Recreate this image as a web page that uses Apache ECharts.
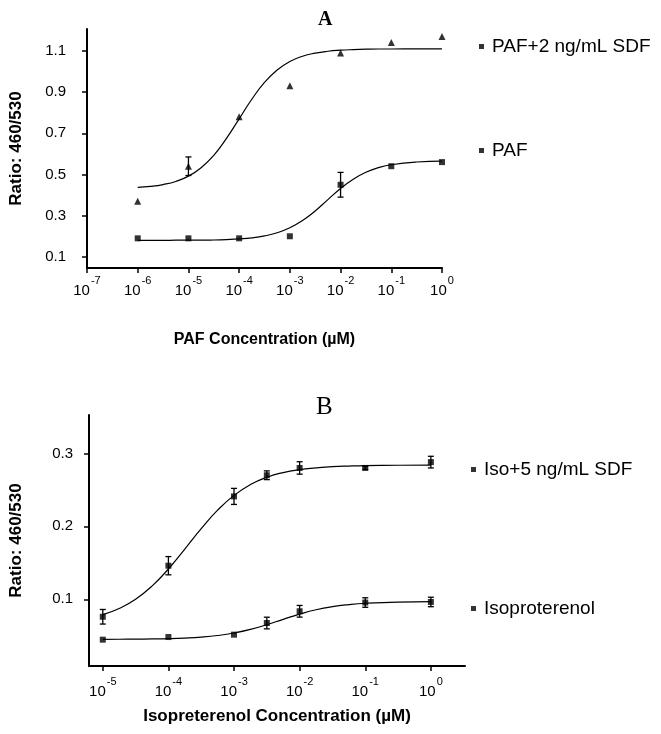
<!DOCTYPE html>
<html>
<head>
<meta charset="utf-8">
<script src="https://cdn.jsdelivr.net/npm/echarts@6/dist/echarts.min.js"></script>
<style>
html,body{margin:0;padding:0;background:#fff;}
#c{width:661px;height:734px;}
</style>
</head>
<body>
<div id="c"></div>
<script>
// ---------- Panel A data (x = log10 of PAF concentration, µM) ----------
var aX = [-6, -5, -4, -3, -2, -1, 0];
var pafSdf = [0.37, 0.54, 0.78, 0.93, 1.09, 1.14, 1.17];
var pafSdfErr = [0, 0.045, 0, 0, 0, 0, 0];
var paf = [0.19, 0.19, 0.19, 0.20, 0.45, 0.54, 0.56];
var pafErr = [0, 0, 0, 0, 0.06, 0, 0];
// fitted curves
var aFitX = [-6, -5.75, -5.5, -5.25, -5, -4.75, -4.5, -4.25, -4, -3.75, -3.5, -3.25, -3, -2.75, -2.5, -2.25, -2, -1.75, -1.5, -1.25, -1, -0.5, 0];
var pafSdfFit = [0.437, 0.442, 0.451, 0.466, 0.492, 0.533, 0.593, 0.675, 0.770, 0.865, 0.947, 1.007, 1.048, 1.074, 1.089, 1.098, 1.103, 1.106, 1.108, 1.109, 1.109, 1.110, 1.110];
var pafFit = [0.180, 0.180, 0.180, 0.181, 0.181, 0.181, 0.182, 0.184, 0.187, 0.192, 0.2015, 0.217, 0.241, 0.276, 0.323, 0.378, 0.432, 0.477, 0.511, 0.533, 0.547, 0.5605, 0.565];
var aYTicks = [0.1, 0.3, 0.5, 0.7, 0.9, 1.1];
var aXTicks = [-7, -6, -5, -4, -3, -2, -1, 0];

// ---------- Panel B data (x = log10 of isoproterenol concentration, µM) ----------
var bX = [-5, -4, -3, -2.5, -2, -1, 0];
var isoSdf = [0.076, 0.146, 0.241, 0.270, 0.280, 0.280, 0.288];
var isoSdfErr = [0.010, 0.0125, 0.011, 0.006, 0.0085, 0.002, 0.008];
var iso = [0.0446, 0.0482, 0.0515, 0.0674, 0.0835, 0.0955, 0.0963];
var isoErr = [0, 0, 0, 0.008, 0.008, 0.0065, 0.0065];
var bFitX = [-5, -4.75, -4.5, -4.25, -4, -3.75, -3.5, -3.25, -3, -2.75, -2.5, -2.25, -2, -1.75, -1.5, -1.25, -1, -0.5, 0];
var isoSdfFit = [0.0789, 0.0873, 0.100, 0.118, 0.1415, 0.1688, 0.1968, 0.2221, 0.2424, 0.2572, 0.2672, 0.2737, 0.2777, 0.2800, 0.2817, 0.2826, 0.2832, 0.2837, 0.2839];
var isoFit = [0.0451, 0.0452, 0.0453, 0.0456, 0.0460, 0.0468, 0.0481, 0.0503, 0.0537, 0.0586, 0.0651, 0.0725, 0.0796, 0.0856, 0.0899, 0.0927, 0.0945, 0.0962, 0.0967];
var bYTicks = [0.1, 0.2, 0.3];
var bXTicks = [-5, -4, -3, -2, -1, 0];

var names = ['PAF+2 ng/mL SDF', 'PAF', 'Iso+5 ng/mL SDF', 'Isoproterenol'];
var titles = ['A', 'B'];
var xNames = ['PAF Concentration (\u00b5M)', 'Isopreterenol Concentration (\u00b5M)'];
var yName = 'Ratio: 460/530';

function pairs(xs, ys) { return xs.map(function (x, i) { return [x, ys[i]]; }); }
function errData(xs, ys, es) {
  var out = [];
  xs.forEach(function (x, i) { if (es[i] > 0) out.push([x, ys[i] - es[i], ys[i] + es[i]]); });
  return out;
}
function errRender(params, api) {
  var x = api.value(0);
  var p1 = api.coord([x, api.value(2)]);
  var p2 = api.coord([x, api.value(1)]);
  var w = 3;
  var st = { stroke: '#000', lineWidth: 1.3 };
  return { type: 'group', children: [
    { type: 'line', shape: { x1: p1[0], y1: p1[1], x2: p2[0], y2: p2[1] }, style: st },
    { type: 'line', shape: { x1: p1[0] - w, y1: p1[1], x2: p1[0] + w, y2: p1[1] }, style: st },
    { type: 'line', shape: { x1: p2[0] - w, y1: p2[1], x2: p2[0] + w, y2: p2[1] }, style: st }
  ]};
}
function supFmt(v) {
  var r = Math.round(v);
  return '{b|10}{s|' + (r === 0 ? '0' : String(r)) + '}';
}
var supRich = {
  b: { fontSize: 15, lineHeight: 15, padding: [8, 0, 0, 0], color: '#000', fontFamily: 'Liberation Sans' },
  s: { fontSize: 11, lineHeight: 11, padding: [0, 0, 12, 1], color: '#000', fontFamily: 'Liberation Sans' }
};
var axisLineStyle = { show: true, onZero: false, lineStyle: { color: '#000', width: 2 } };
var tickStyle = { show: true, length: 5, lineStyle: { color: '#000', width: 1.5 } };
var sans = 'Liberation Sans';

var chart = echarts.init(document.getElementById('c'), null, { renderer: 'canvas' });
var legendText = { fontSize: 19, color: '#000', fontFamily: sans, padding: [0, 0, 0, 3] };
function leg(name, left, top) {
  return { data: [name], left: left, top: top, icon: 'rect', itemWidth: 5, itemHeight: 5,
    orient: 'vertical', textStyle: legendText, selectedMode: false };
}

var option = {
  animation: false,
  backgroundColor: '#fff',
  title: [
    { text: titles[0], left: 313, top: 5, textStyle: { fontFamily: 'Liberation Serif', fontWeight: 'bold', fontSize: 20, color: '#000' } },
    { text: titles[1], left: 311, top: 390, textStyle: { fontFamily: 'Liberation Serif', fontWeight: 'normal', fontSize: 25, color: '#000' } }
  ],
  legend: [
    leg(names[0], 474, 32),
    leg(names[1], 474, 136),
    leg(names[2], 466, 455),
    leg(names[3], 466, 594)
  ],
  grid: [
    { left: 86, top: 29, width: 356, height: 239 },
    { left: 88, top: 415, width: 377, height: 251 }
  ],
  xAxis: [
    { gridIndex: 0, type: 'value', min: -7, max: 0, splitLine: { show: false },
      axisLine: axisLineStyle, axisTick: Object.assign({ customValues: aXTicks }, tickStyle),
      axisLabel: { customValues: aXTicks, formatter: supFmt, rich: supRich, margin: 11 },
      name: xNames[0], nameLocation: 'middle', nameGap: 64,
      nameTextStyle: { fontSize: 16, fontWeight: 'bold', color: '#000', fontFamily: sans } },
    { gridIndex: 1, type: 'value', min: -5.21, max: 0.52, splitLine: { show: false },
      axisLine: axisLineStyle, axisTick: Object.assign({ customValues: bXTicks }, tickStyle),
      axisLabel: { customValues: bXTicks, formatter: supFmt, rich: supRich, margin: 14 },
      name: xNames[1], nameLocation: 'middle', nameGap: 42,
      nameTextStyle: { fontSize: 17, fontWeight: 'bold', color: '#000', fontFamily: sans } }
  ],
  yAxis: [
    { gridIndex: 0, type: 'value', min: 0.046, max: 1.206, splitLine: { show: false },
      axisLine: axisLineStyle, axisTick: Object.assign({ customValues: aYTicks }, tickStyle),
      axisLabel: { customValues: aYTicks, formatter: function (v) { return v.toFixed(1); }, fontSize: 15, color: '#000', fontFamily: sans, margin: 21 },
      name: yName, nameLocation: 'middle', nameGap: 62, nameRotate: 90,
      nameTextStyle: { fontSize: 17, fontWeight: 'bold', color: '#000', fontFamily: sans } },
    { gridIndex: 1, type: 'value', min: 0.0085, max: 0.3526, splitLine: { show: false },
      axisLine: axisLineStyle, axisTick: Object.assign({ customValues: bYTicks }, tickStyle),
      axisLabel: { customValues: bYTicks, formatter: function (v) { return v.toFixed(1); }, fontSize: 15, color: '#000', fontFamily: sans, margin: 16 },
      name: yName, nameLocation: 'middle', nameGap: 64, nameRotate: 90,
      nameTextStyle: { fontSize: 17, fontWeight: 'bold', color: '#000', fontFamily: sans } }
  ],
  series: [
    { name: names[0] + ' fit', type: 'line', xAxisIndex: 0, yAxisIndex: 0, data: pairs(aFitX, pafSdfFit), smooth: true, showSymbol: false, lineStyle: { color: '#000', width: 1.2 }, z: 2 },
    { name: names[1] + ' fit', type: 'line', xAxisIndex: 0, yAxisIndex: 0, data: pairs(aFitX, pafFit), smooth: true, showSymbol: false, lineStyle: { color: '#000', width: 1.2 }, z: 2 },
    { name: names[0], type: 'scatter', xAxisIndex: 0, yAxisIndex: 0, data: pairs(aX, pafSdf), symbol: 'triangle', symbolSize: 7, itemStyle: { color: '#000' }, z: 3 },
    { name: names[1], type: 'scatter', xAxisIndex: 0, yAxisIndex: 0, data: pairs(aX, paf), symbol: 'rect', symbolSize: 6, itemStyle: { color: '#000' }, z: 3 },
    { name: names[0] + ' err', type: 'custom', xAxisIndex: 0, yAxisIndex: 0, data: errData(aX, pafSdf, pafSdfErr), renderItem: errRender, z: 3 },
    { name: names[1] + ' err', type: 'custom', xAxisIndex: 0, yAxisIndex: 0, data: errData(aX, paf, pafErr), renderItem: errRender, z: 3 },

    { name: names[2] + ' fit', type: 'line', xAxisIndex: 1, yAxisIndex: 1, data: pairs(bFitX, isoSdfFit), smooth: true, showSymbol: false, lineStyle: { color: '#000', width: 1.2 }, z: 2 },
    { name: names[3] + ' fit', type: 'line', xAxisIndex: 1, yAxisIndex: 1, data: pairs(bFitX, isoFit), smooth: true, showSymbol: false, lineStyle: { color: '#000', width: 1.2 }, z: 2 },
    { name: names[2], type: 'scatter', xAxisIndex: 1, yAxisIndex: 1, data: pairs(bX, isoSdf), symbol: 'rect', symbolSize: 6, itemStyle: { color: '#000' }, z: 3 },
    { name: names[3], type: 'scatter', xAxisIndex: 1, yAxisIndex: 1, data: pairs(bX, iso), symbol: 'rect', symbolSize: 6, itemStyle: { color: '#000' }, z: 3 },
    { name: names[2] + ' err', type: 'custom', xAxisIndex: 1, yAxisIndex: 1, data: errData(bX, isoSdf, isoSdfErr), renderItem: errRender, z: 3 },
    { name: names[3] + ' err', type: 'custom', xAxisIndex: 1, yAxisIndex: 1, data: errData(bX, iso, isoErr), renderItem: errRender, z: 3 }
  ]
};
chart.setOption(option);
</script>
</body>
</html>
